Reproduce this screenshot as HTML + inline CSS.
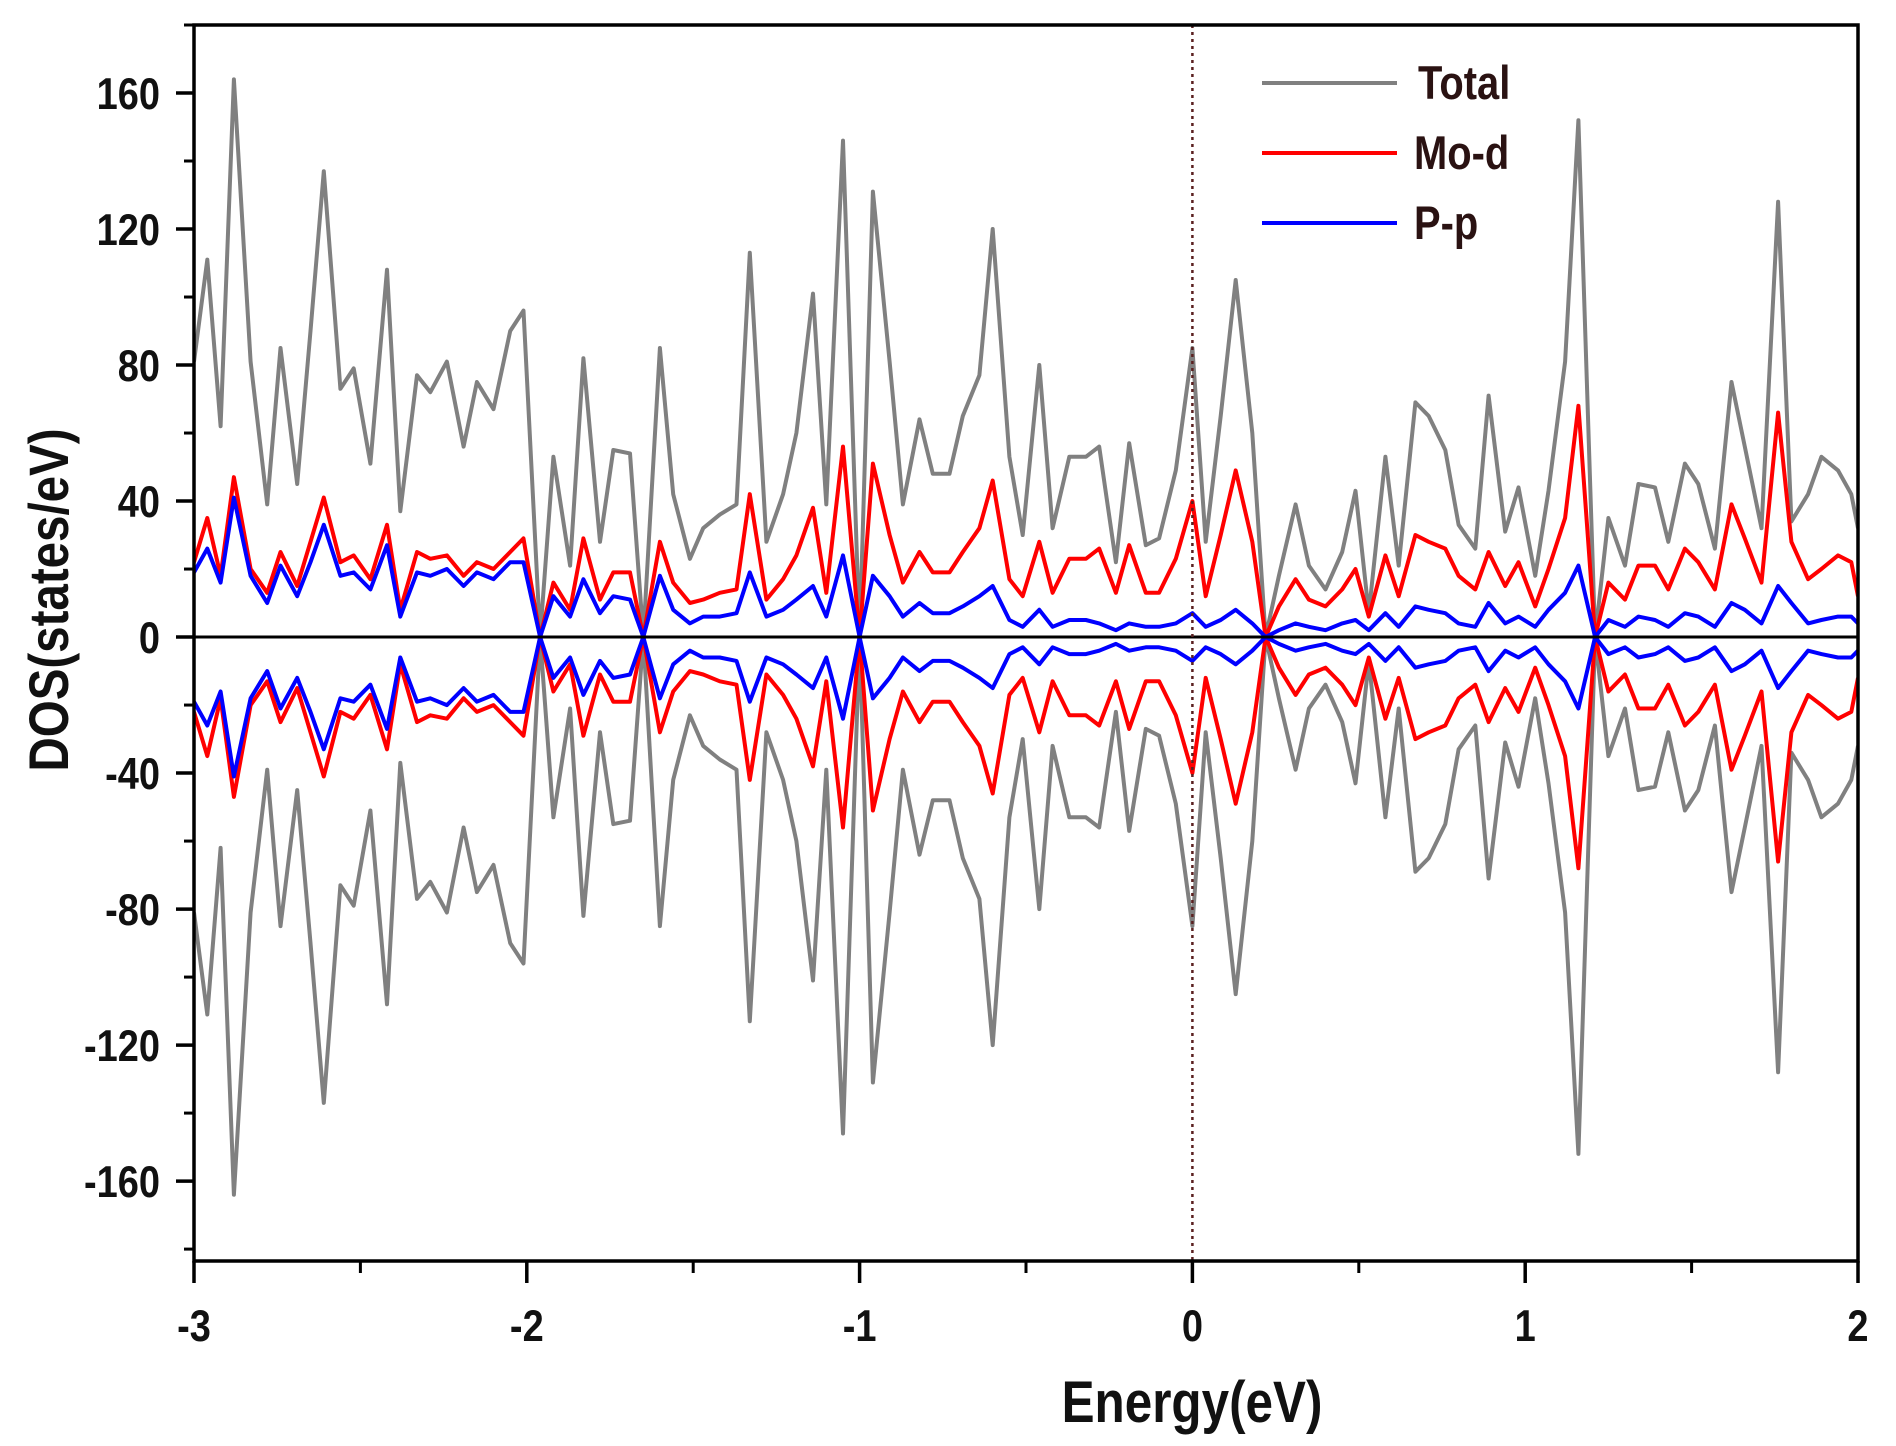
<!DOCTYPE html>
<html><head><meta charset="utf-8">
<style>
html,body{margin:0;padding:0;background:#fff;}
svg{display:block;font-family:"Liberation Sans",Arial,sans-serif;font-weight:bold;}
</style></head>
<body>
<svg id="chart" width="1896" height="1446" viewBox="0 0 1896 1446" xmlns="http://www.w3.org/2000/svg">
<defs><clipPath id="plotclip"><rect x="194" y="25" width="1664" height="1236"/></clipPath></defs>
<g id="series" clip-path="url(#plotclip)"></g>
<g id="axes"></g>
<g>
  <line x1="1262" y1="83" x2="1397" y2="83" stroke="#808080" stroke-width="4"/>
  <text transform="translate(1418,99) scale(0.95,1.12)" font-size="42" fill="#2a1212">Total</text>
  <line x1="1262" y1="153" x2="1397" y2="153" stroke="#ff0000" stroke-width="4"/>
  <text transform="translate(1414,169) scale(0.95,1.12)" font-size="42" fill="#2a1212">Mo-d</text>
  <line x1="1262" y1="223" x2="1397" y2="223" stroke="#0000ff" stroke-width="4"/>
  <text transform="translate(1414,239) scale(0.95,1.12)" font-size="42" fill="#2a1212">P-p</text>
</g>
<text transform="translate(1192,1422) scale(0.95,1.12)" font-size="52" text-anchor="middle" fill="#111">Energy(eV)</text>
<text transform="translate(68,600) rotate(-90) scale(0.95,1.12)" font-size="50" text-anchor="middle" fill="#111">DOS(states/eV)</text>
</svg>
<script>
const energies = [-3.00,-2.96,-2.92,-2.88,-2.83,-2.78,-2.74,-2.69,-2.65,-2.61,
-2.56,-2.52,-2.47,-2.42,-2.38,-2.33,-2.29,-2.24,-2.19,-2.15,
-2.10,-2.05,-2.01,-1.96,-1.92,-1.87,-1.83,-1.78,-1.74,-1.69,
-1.65,-1.60,-1.56,-1.51,-1.47,-1.42,-1.37,-1.33,-1.28,-1.23,
-1.19,-1.14,-1.10,-1.05,-1.00,-0.96,-0.91,-0.87,-0.82,-0.78,
-0.73,-0.69,-0.64,-0.60,-0.55,-0.51,-0.46,-0.42,-0.37,-0.32,
-0.28,-0.23,-0.19,-0.14,-0.10,-0.05,0.00,0.04,0.085,0.13,
0.18,0.22,0.26,0.31,0.35,0.40,0.45,0.49,0.53,0.58,
0.62,0.67,0.71,0.76,0.80,0.85,0.89,0.94,0.98,1.03,
1.07,1.12,1.16,1.21,1.25,1.30,1.34,1.39,1.43,1.48,
1.52,1.57,1.62,1.66,1.71,1.76,1.80,1.85,1.89,1.94,
1.98,2.00];
const totalDos = [81,111,62,164,81,39,85,45,90,137,
73,79,51,108,37,77,72,81,56,75,
67,90,96,0,53,21,82,28,55,54,
0,85,42,23,32,36,39,113,28,42,
60,101,39,146,0,131,81,39,64,48,
48,65,77,120,53,30,80,32,53,53,
56,22,57,27,29,49,85,28,65,105,
60,0,18,39,21,14,25,43,7,53,
21,69,65,55,33,26,71,31,44,18,
43,81,152,0,35,21,45,44,28,51,
45,26,75,56,32,128,34,42,53,49,
42,32];
const moD = [22,35,18,47,20,13,25,15,28,41,
22,24,17,33,8,25,23,24,18,22,
20,25,29,0,16,8,29,11,19,19,
0,28,16,10,11,13,14,42,11,17,
24,38,13,56,0,51,30,16,25,19,
19,25,32,46,17,12,28,13,23,23,
26,13,27,13,13,23,40,12,30,49,
28,0,9,17,11,9,14,20,6,24,
12,30,28,26,18,14,25,15,22,9,
20,35,68,0,16,11,21,21,14,26,
22,14,39,29,16,66,28,17,20,24,
22,12];
const pP = [19,26,16,41,18,10,21,12,22,33,
18,19,14,27,6,19,18,20,15,19,
17,22,22,0,12,6,17,7,12,11,
0,18,8,4,6,6,7,19,6,8,
11,15,6,24,0,18,12,6,10,7,
7,9,12,15,5,3,8,3,5,5,
4,2,4,3,3,4,7,3,5,8,
4,0,2,4,3,2,4,5,2,7,
3,9,8,7,4,3,10,4,6,3,
8,13,21,0,5,3,6,5,3,7,
6,3,10,8,4,15,10,4,5,6,
6,4];
const xTicks = [-3,-2,-1,0,1,2];
const xTickLabels = ["-3","-2","-1","0","1","2"];
const yTicks = [-160,-120,-80,-40,0,40,80,120,160];
const yTickLabels = ["-160","-120","-80","-40","0","40","80","120","160"];

const L=194,R=1858,T=25,B=1261;
const X0=-3,X1=2,Y0=-183.5,Y1=180;
function sx(v){return L+(v-X0)/(X1-X0)*(R-L);}
function sy(v){return B-(v-Y0)/(Y1-Y0)*(B-T);}
const NS="http://www.w3.org/2000/svg";
const series=document.getElementById('series');
const axes=document.getElementById('axes');
function mk(tag,attrs,parent){const e=document.createElementNS(NS,tag);for(const k in attrs)e.setAttribute(k,attrs[k]);parent.appendChild(e);return e;}

function drawLine(vals,sign,color,name){
  const pts=energies.map((e,i)=>sx(e).toFixed(1)+','+sy(sign*vals[i]).toFixed(1)).join(' ');
  const p=mk('polyline',{points:pts,fill:'none',stroke:color,'stroke-width':4,'stroke-linejoin':'round'},series);
  
  
}
drawLine(totalDos,1,'#808080','total-up-line');
drawLine(totalDos,-1,'#808080','total-down-line');
drawLine(moD,1,'#ff0000','mo-d-up-line');
drawLine(moD,-1,'#ff0000','mo-d-down-line');
drawLine(pP,1,'#0000ff','p-p-up-line');
drawLine(pP,-1,'#0000ff','p-p-down-line');

const zl=mk('line',{x1:L,x2:R,y1:sy(0),y2:sy(0),stroke:'#000','stroke-width':3},series);


const fl=mk('line',{x1:sx(0),x2:sx(0),y1:T,y2:B,stroke:'#5a2020','stroke-width':2.5,'stroke-dasharray':'3,4'},series);



const fr=mk('rect',{x:L,y:T,width:R-L,height:B-T,fill:'none',stroke:'#000','stroke-width':3.5},axes);



yTicks.forEach((v,i)=>{
  const t=mk('line',{x1:L-18,x2:L,y1:sy(v),y2:sy(v),stroke:'#000','stroke-width':3.5},axes);
  
  
  const tx=mk('text',{transform:'translate('+(L-34)+','+(sy(v)+16)+') scale(0.95,1.12)','font-size':40,'text-anchor':'end',fill:'#111'},axes);
  tx.textContent=yTickLabels[i];
  
  
  if(i<yTicks.length-1){
    const m=(v+yTicks[i+1])/2;
    const mt=mk('line',{x1:L-10,x2:L,y1:sy(m),y2:sy(m),stroke:'#000','stroke-width':3},axes);
    
    
  }
});
[-180,180].forEach(v=>{
  const mt=mk('line',{x1:L-10,x2:L,y1:sy(v),y2:sy(v),stroke:'#000','stroke-width':3},axes);
  
  
});
xTicks.forEach((v,i)=>{
  const t=mk('line',{x1:sx(v),x2:sx(v),y1:B,y2:B+22,stroke:'#000','stroke-width':3.5},axes);
  
  
  const tx=mk('text',{transform:'translate('+sx(v)+','+(B+80)+') scale(0.95,1.12)','font-size':40,'text-anchor':'middle',fill:'#111'},axes);
  tx.textContent=xTickLabels[i];
  
  
  if(i<xTicks.length-1){
    const m=(v+xTicks[i+1])/2;
    const mt=mk('line',{x1:sx(m),x2:sx(m),y1:B,y2:B+12,stroke:'#000','stroke-width':3},axes);
    
    
  }
});
</script>
</body></html>
